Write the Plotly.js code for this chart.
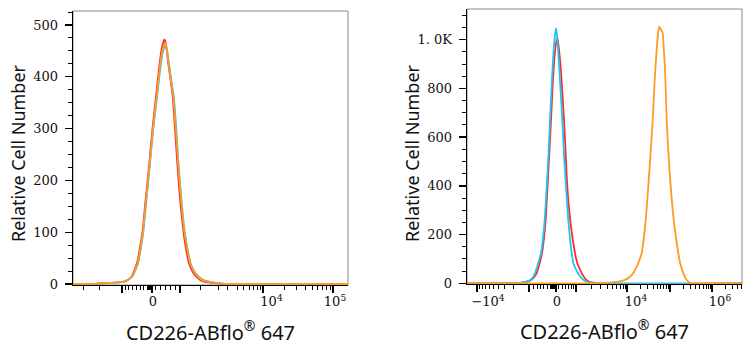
<!DOCTYPE html>
<html><head><meta charset="utf-8">
<script src="https://cdn.plot.ly/plotly-3.0.1.min.js"></script>
<style>html,body{margin:0;padding:0;background:#fff}#c{width:753px;height:350px}</style>
</head><body><div id="c"></div>
<script>
// ---- Left panel (display channel units across the axis) ----
const leftRedX = [0,20,27,35,45,52,58.5,61,64,66.5,69.7,72.5,76.3,79.5,83,86,88.5,90.5,91.5,93,95,97.5,99.7,102,104.3,107,110.3,113,116,119.5,123.5,130,140,150,275];
const leftRedY = [0,0,1,2,3,5,14,25,40,65,104,160,233,300,362,415,452,468,472,462,430,395,362,300,233,165,104,68,40,24,14,5,2,0,0];
const leftCyanX = [0,20,27,35,45,52,59,62,65,67.5,70.5,73.3,77,80.3,84,87,89.5,91.5,92.5,94,96,98.5,100.8,103.2,105.5,108.3,111.5,114.5,117.5,121,125,131,140,147,152,275];
const leftCyanY = [0,0,1,2,3,5,14,25,40,65,104,160,233,300,362,412,445,458,460,452,425,390,362,300,233,165,104,68,40,25,15,7,3,1,0,0];
const leftOrangeX = [0,20,27,35,45,52,58.8,61.7,64.7,67.2,70.2,73,76.8,80,83.7,86.7,89.2,91.2,92,93.5,95.5,98,100.3,102.8,105.2,108,111.2,114.2,117.2,120.7,124.5,131,140,147,152,275];
const leftOrangeY = [0,0,1,2,3,5,14,25,40,65,104,160,233,300,362,415,448,462,465,457,428,392,362,300,233,165,104,68,40,25,15,6,3,1,0,0];

// ---- Right panel ----
const rightRedX = [0,40,48,55,62.5,66.5,69.7,72.5,75,78.5,80.5,82.3,84,85.8,87.3,89,90.3,91.7,93.8,97,98.7,100.3,103.5,108,110.5,114.7,119,123,127,131,275];
const rightRedY = [0,0,1,3,10,22,42,80,124,250,397,530,671,820,920,985,1006,970,880,671,530,397,250,124,80,42,15,5,2,0,0];
const rightCyanX = [0,40,48,55,62,65.5,68,71,74,77.5,79.7,81.5,83,84.8,86.5,88,89,90.2,92,95.3,97,99,101.5,104.7,106.5,111,116,121,126,130,275];
const rightCyanY = [0,0,1,3,10,22,42,80,124,250,397,530,671,820,950,1020,1047,1010,900,671,530,397,250,124,80,42,15,5,2,0,0];
const rightOrangeX = [0,125,135,143,150,155,158,162.5,166.3,171,174.7,178.5,181.3,183.5,185.7,187.5,189.5,191.2,192.3,194,195.7,196.8,198,199.7,201.5,203.7,207,211.3,213.3,216.3,219,221,223.5,226,275];
const rightOrangeY = [0,0,1,3,6,10,14,25,42,80,124,250,397,530,671,820,950,1030,1054,1040,1027,960,880,671,530,397,250,124,80,42,18,8,2,0,0];

// ---- Axis ticks (display positions) and labels ----
const leftMajorTicks = [49,79,107,190,260];
const leftMinorTicks = [10,26,52,55,59,63,67,70,74,75,76,77,78,82,87,92,97,102,127,145,154,164,170,176,180,184,187,211,223,232,239,244,249,253,257];
const leftLabelPos = [80,198.5,262];
const leftLabelText = ['0','10<sup>4</sup>','10<sup>5</sup>'];
const rightMajorTicks = [10,62,89,109,160,203,245];
const rightMinorTicks = [12,15,18,22,26,31,37,46,66,70,73,76,80,83,84,85,86,87,88,91,95,98,101,104,106,124,133,140,145,149,153,156,158,173,180,186,190,193,196,199,201,216,223,228,232,236,239,241,243,258,265,270,274];
const rightLabelPos = [21,90,169,253];
const rightLabelText = ['\u221210<sup>4</sup>','0','10<sup>4</sup>','10<sup>6</sup>'];

const leftYTicks = [0,100,200,300,400,500];
const leftYText = ['0','100','200','300','400','500'];
const rightYTicks = [0,200,400,600,800,1000];
const rightYText = ['0','200','400','600','800','1. 0K'];

const xTitle = 'CD226-ABflo<sup>®</sup> 647';
const yTitle = 'Relative Cell Number';

const RED = '#ff2b2b', CYAN = '#1fc6f2', ORANGE = '#ff9a22';
const W = 753, H = 350;

function line(x, y, color, xa, ya) {
  return {type:'scatter', mode:'lines', x:x, y:y, xaxis:xa, yaxis:ya,
    line:{color:color, width:1.8, shape:'spline', smoothing:0.6}, hoverinfo:'skip', showlegend:false};
}
const traces = [
  {type:'scatter', x:[], y:[], xaxis:'x3', yaxis:'y', showlegend:false},
  {type:'scatter', x:[], y:[], xaxis:'x4', yaxis:'y2', showlegend:false},
  line(leftRedX, leftRedY, RED, 'x', 'y'),
  line(leftCyanX, leftCyanY, CYAN, 'x', 'y'),
  line(leftOrangeX, leftOrangeY, ORANGE, 'x', 'y'),
  line(rightRedX, rightRedY, RED, 'x2', 'y2'),
  line(rightCyanX, rightCyanY, CYAN, 'x2', 'y2'),
  line(rightOrangeX, rightOrangeY, ORANGE, 'x2', 'y2')
];

const serif = {family:'DejaVu Serif, Liberation Serif, serif', size:13, color:'#111'};
const sansFamily = 'Noto Sans, DejaVu Sans, sans-serif';

function tickAxis(domain, anchor, majors, minors) {
  return {domain:domain, anchor:anchor, range:[0,275], fixedrange:true,
    tickmode:'array', tickvals:majors, showticklabels:false,
    ticks:'outside', ticklen:7, tickwidth:1.4, tickcolor:'#000',
    minor:{tickmode:'array', tickvals:minors, ticks:'outside', ticklen:4, tickwidth:1, tickcolor:'#000'},
    showline:true, linecolor:'#000', linewidth:1.4, showgrid:false, zeroline:false,
    title:{text:xTitle, font:{family:sansFamily, size:20, color:'#111'}, standoff:33}};
}
function labelAxis(domain, pos, text) {
  return {domain:domain, anchor:'free', position:(H-292)/H, side:'bottom', range:[0,275], fixedrange:true,
    tickmode:'array', tickvals:pos, ticktext:text, ticks:'',
    showline:false, showgrid:false, zeroline:false, tickfont:serif};
}
function yAxis(domain, anchor, range, vals, text, minorStep) {
  return {domain:domain, anchor:anchor, range:range, fixedrange:true,
    tickmode:'array', tickvals:vals, ticktext:text, tickfont:serif,
    ticks:'outside', ticklen:7, tickwidth:1.4, tickcolor:'#000', ticklabelstandoff:4,
    minor:{dtick:minorStep, tick0:0, ticks:'outside', ticklen:4, tickwidth:1, tickcolor:'#000'},
    showline:true, linecolor:'#000', linewidth:1.4, showgrid:false, zeroline:false};
}
function yTitleAnno(xPx) {
  return {text:yTitle, xref:'paper', yref:'paper', x:xPx/W, y:(H-153)/H, xanchor:'center', yanchor:'middle',
    textangle:-90, showarrow:false, font:{family:sansFamily, size:18, color:'#111'}};
}

const leftDomain = [73/W, 348/W], rightDomain = [467/W, 742/W];
const layout = {
  width:W, height:H, margin:{l:0, r:0, t:0, b:0}, paper_bgcolor:'#fff', plot_bgcolor:'rgba(0,0,0,0)',
  showlegend:false,
  xaxis: tickAxis(leftDomain, 'y', leftMajorTicks, leftMinorTicks),
  xaxis2: tickAxis(rightDomain, 'y2', rightMajorTicks, rightMinorTicks),
  xaxis3: labelAxis(leftDomain, leftLabelPos, leftLabelText),
  xaxis4: labelAxis(rightDomain, rightLabelPos, rightLabelText),
  yaxis: yAxis([(H-285)/H, (H-11)/H], 'x', [-1.9, 527], leftYTicks, leftYText, 25),
  yaxis2: yAxis([(H-284)/H, (H-9)/H], 'x2', [-2.9, 1126], rightYTicks, rightYText, 50),
  annotations:[yTitleAnno(18), yTitleAnno(412)],
  shapes:[
    {type:'rect', xref:'x domain', yref:'y domain', x0:0, x1:1, y0:0, y1:1, line:{color:'#8a8a8a', width:1}, layer:'below'},
    {type:'rect', xref:'x2 domain', yref:'y2 domain', x0:0, x1:1, y0:0, y1:1, line:{color:'#8a8a8a', width:1}, layer:'below'}
  ]
};
Plotly.newPlot('c', traces, layout, {staticPlot:true, displayModeBar:false});
</script></body></html>
